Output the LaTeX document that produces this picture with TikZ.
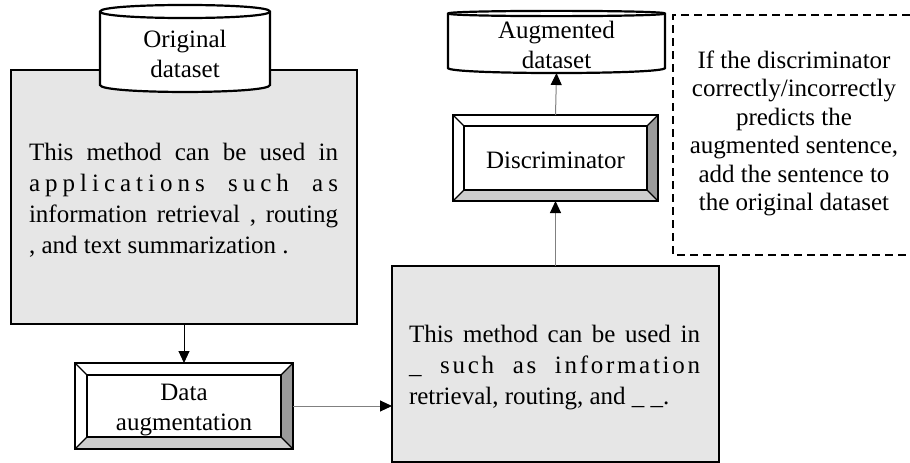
\documentclass[tikz,border=0pt]{standalone}
\usepackage{fontspec}
\setmainfont{Liberation Serif}
\usetikzlibrary{arrows.meta}
\definecolor{boxgray}{HTML}{E6E6E6}
\definecolor{bevdark}{HTML}{9A9A9A}
\definecolor{bevlight}{HTML}{CDCDCD}
\definecolor{linegray}{HTML}{808080}
\newcommand\myL{\hspace{0pt plus 1fil}}
\newcommand\myW[1]{\hspace{0pt plus #1fil}\ }
\newcommand\mybevel[2]{%
 \fill[white] (#1.north west) -- (#1.north east) -- ([shift={(-#2,#2)}]#1.north east) -- ([shift={(#2,#2)}]#1.north west) -- cycle;
 \fill[white] (#1.north west) -- ([shift={(#2,#2)}]#1.north west) -- ([shift={(#2,-#2)}]#1.south west) -- (#1.south west) -- cycle;
 \fill[bevdark] (#1.north east) -- (#1.south east) -- ([shift={(-#2,-#2)}]#1.south east) -- ([shift={(-#2,#2)}]#1.north east) -- cycle;
 \fill[bevlight] (#1.south west) -- ([shift={(#2,-#2)}]#1.south west) -- ([shift={(-#2,-#2)}]#1.south east) -- (#1.south east) -- cycle;
 \draw[line width=1.2pt] (#1.north west) -- ([shift={(#2,#2)}]#1.north west)
   (#1.north east) -- ([shift={(-#2,#2)}]#1.north east)
   (#1.south west) -- ([shift={(#2,-#2)}]#1.south west)
   (#1.south east) -- ([shift={(-#2,-#2)}]#1.south east);
 \draw[line width=1.8pt] ([shift={(#2,#2)}]#1.north west) rectangle ([shift={(-#2,-#2)}]#1.south east);
 \draw[line width=2.4pt] (#1.north west) rectangle (#1.south east);
}
\begin{document}
\begin{tikzpicture}[x=1pt,y=-1pt,
  txt/.style={font=\fontsize{25}{30}\selectfont},
  ln/.style={txt, inner sep=0pt, outer sep=0pt, anchor=base},
  lnw/.style={ln, anchor=base west},
  graybox/.style={draw, line width=2.5pt, fill=boxgray, inner sep=0pt, outer sep=0pt},
  bevbox/.style={draw, line width=2.4pt, fill=white, inner sep=0pt, outer sep=0pt},
  cyl/.style={draw, line width=2.2pt, fill=white},
  conn/.style={linegray, line width=1pt, -{Triangle[length=12pt,width=11pt,color=black]}},
  dashline/.style={line width=2.2pt, dash pattern=on 8pt off 5pt},
]
\useasboundingbox (0,0) rectangle (910,463);

% left gray box
\node[graybox, minimum width=346pt, minimum height=254pt] (src) at (184,197) {};
\node[lnw] (src1) at (29,160) {\makebox[309pt][s]{This\hfill\ method\hfill\ can\hfill\ be\hfill\ used\hfill\ in}};
\node[lnw] (src2) at (29,191) {\makebox[309pt][s]{a\myL p\myL p\myL l\myL i\myL c\myL a\myL t\myL i\myL o\myL n\myL s\myW{3.4}s\myL u\myL c\myL h\myW{3.4}a\myL s}};
\node[lnw] (src3) at (29,222) {\makebox[309pt][s]{information\hfill\ retrieval\hfill\ ,\hfill\ routing}};
\node[lnw] (src4) at (29,253) {, and text summarization .};

% original dataset cylinder
\filldraw[cyl] (100,11.5) .. controls (100,2.8) and (270,2.8) .. (270,11.5) -- (270,85)
  .. controls (270,94.3) and (100,94.3) .. (100,85) -- cycle;
\draw[line width=2.2pt] (100,11.5) .. controls (100,20.2) and (270,20.2) .. (270,11.5);
\node[ln] (od1) at (185,47) {Original};
\node[ln] (od2) at (185,77) {dataset};

% data augmentation
\node[bevbox, minimum width=218pt, minimum height=86pt] (da) at (184,406) {};
\mybevel{da}{12}
\node[ln] (da1) at (184,400) {Data};
\node[ln] (da2) at (184,430) {augmentation};

% right gray box
\node[graybox, minimum width=327pt, minimum height=196pt] (aug) at (555.5,364) {};
\node[lnw] (aug1) at (409,342) {\makebox[291pt][s]{This\hfill\ method\hfill\ can\hfill\ be\hfill\ used\hfill\ in}};
\node[lnw] (aug2) at (409,373) {\makebox[291pt][s]{\_\myW{4.6}s\myL u\myL c\myL h\myW{4.6}a\myL s\myW{4.6}i\myL n\myL f\myL o\myL r\myL m\myL a\myL t\myL i\myL o\myL n}};
\node[lnw] (aug3) at (409,404) {retrieval, routing, and \_ \_.};

% discriminator
\node[bevbox, minimum width=205pt, minimum height=86pt] (disc) at (555.5,158) {};
\mybevel{disc}{11}
\node[ln] (disc1) at (555.5,168) {Discriminator};

% augmented dataset cylinder
\filldraw[cyl] (448,13.5) .. controls (448,10) and (665,10) .. (665,13.5) -- (665,68)
  .. controls (665,74.7) and (448,74.7) .. (448,68) -- cycle;
\draw[line width=2.2pt] (448,13.5) .. controls (448,17) and (665,17) .. (665,13.5);
\coordinate (augds) at (556.5,73);
\node[ln] (ad1) at (556.5,38) {Augmented};
\node[ln] (ad2) at (556.5,68) {dataset};

% note
\draw[dashline] (910,15) -- (673,15) -- (673,255) -- (910,255);
\node[ln] (n1) at (794,68) {If the discriminator};
\node[ln] (n2) at (794,96.5) {correctly/incorrectly};
\node[ln] (n3) at (794,125) {predicts the};
\node[ln] (n4) at (794,153.5) {augmented sentence,};
\node[ln] (n5) at (794,182) {add the sentence to};
\node[ln] (n6) at (794,210.5) {the original dataset};

% connectors
\draw[conn, black] (src.south -| da.north) -- (da.north);
\draw[conn] (da.east) -- (da.east -| aug.west);
\draw[conn] (aug.north -| disc.south) -- (disc.south);
\draw[conn] (disc.north) -- (augds);
\end{tikzpicture}
\end{document}
